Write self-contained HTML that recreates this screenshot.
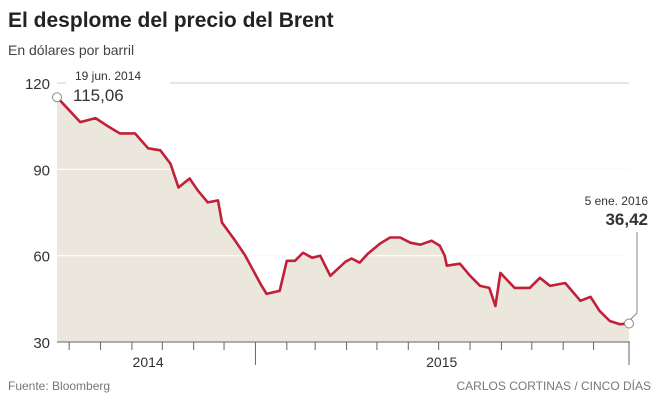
<!DOCTYPE html>
<html><head><meta charset="utf-8"><style>
body{margin:0;background:#fff;font-family:"Liberation Sans",sans-serif;}
svg text{font-family:"Liberation Sans",sans-serif;}
</style></head><body>
<svg width="664" height="400" viewBox="0 0 664 400">
<text x="8" y="27" font-size="21" font-weight="bold" fill="#222">El desplome del precio del Brent</text>
<text x="8" y="55" font-size="14" fill="#444">En dólares por barril</text>
<g id="grid"></g>
<path id="area" fill="#ece7dc"></path>
<g id="gridTop"></g>
<path id="line" fill="none" stroke="#c0203a" stroke-width="2.6" stroke-linejoin="round"></path>
<g id="axis"></g>
<text x="75" y="80" font-size="12" fill="#333">19 jun. 2014</text>
<text x="73" y="101" font-size="17" fill="#333">115,06</text>
<text x="648" y="205" font-size="12" fill="#333" text-anchor="end">5 ene. 2016</text>
<text x="648" y="225" font-size="17" font-weight="bold" fill="#333" text-anchor="end">36,42</text>
<polyline points="630,320 637,313 637,232" fill="none" stroke="#888" stroke-width="1"/>
<circle id="startDot" r="4.5" fill="#fff" stroke="#888" stroke-width="1"/>
<circle id="endDot" r="4.5" fill="#fff" stroke="#888" stroke-width="1"/>
<text x="8" y="390" font-size="12" fill="#777">Fuente: Bloomberg</text>
<text x="651" y="390" font-size="12" fill="#777" text-anchor="end">CARLOS CORTINAS / CINCO DÍAS</text>
</svg>
<script>
const days=[0,23,38,52,62,77,90,102,112,120,131,139,149,159,163,176,186,201,207,220,227,235,243,252,260,270,285,291,299,307,319,329,339,349,359,370,378,383,385,398,408,418,427,433,438,452,467,477,487,502,517,527,536,546,556,565];
const prices=[115.06,106.4,107.8,104.6,102.5,102.5,97.3,96.6,92,83.7,86.8,82.7,78.5,79.2,71.5,65.2,60,50.2,46.7,47.8,58.2,58.2,61,59.3,60,53,57.9,59,57.6,60.7,64.2,66.3,66.3,64.5,63.8,65.2,63.5,60,56.5,57.2,53,49.5,48.8,42.5,54,48.8,48.8,52.3,49.5,50.5,44.3,45.7,40.8,37.3,36.2,36.42];
const yTicks=[30,60,90,120];
const monthTicks=[12,43,74,104,135,165,196,227,255,286,316,347,377,408,439,469,500,530,565];
const yearTicks=[196,565];
const yearLabels=["2014","2015"];
const yearLabelDays=[90,380];
const NS="http://www.w3.org/2000/svg";
const x=d=>57+d*(572/565);
const y=v=>342-(v-30)*(259/90);
function mk(tag,attrs,parent,text){const e=document.createElementNS(NS,tag);for(const k in attrs)e.setAttribute(k,attrs[k]);if(text!==undefined)e.textContent=text;document.getElementById(parent).appendChild(e);return e;}
yTicks.forEach(v=>{
 if(v===30)return;
 const yy=y(v);
 let e;
 if(v===120){
  e=mk('line',{x1:57,x2:66,y1:yy,y2:yy,stroke:'#ccc'},'grid');
  
  
  e=mk('line',{x1:170,x2:629,y1:yy,y2:yy,stroke:'#ccc'},'grid');
 } else {
  e=mk('line',{x1:57,x2:629,y1:yy,y2:yy,stroke:'#fff','stroke-width':1.2},'gridTop');
  
  
  e=mk('line',{x1:57,x2:629,y1:yy,y2:yy,stroke:'#ccc'},'grid');
 }
 
 
});
yTicks.forEach(v=>{
 const t=mk('text',{x:50,y:y(v)+6,'font-size':15,fill:'#333','text-anchor':'end'},'axis',String(v));
 
 
});
let pts=days.map((d,i)=>x(d).toFixed(1)+','+y(prices[i]).toFixed(1));
document.getElementById('line').setAttribute('d','M'+pts.join('L'));
document.getElementById('area').setAttribute('d','M'+x(days[0])+','+y(30)+'L'+pts.join('L')+'L'+x(days[days.length-1])+','+y(30)+'Z');
const ax=mk('line',{x1:57,x2:630,y1:y(30),y2:y(30),stroke:'#666'},'axis');


monthTicks.forEach(d=>{
 const big=yearTicks.includes(d);
 const t=mk('line',{x1:x(d),x2:x(d),y1:y(30),y2:y(30)+(big?23:8),stroke:'#666'},'axis');
 
 
});
yearLabels.forEach((l,i)=>{
 const t=mk('text',{x:x(yearLabelDays[i]),y:367,'font-size':14,fill:'#333','text-anchor':'middle'},'axis',l);
 
 
});
const s=document.getElementById('startDot');s.setAttribute('cx',x(days[0]));s.setAttribute('cy',y(prices[0]));
const en=document.getElementById('endDot');en.setAttribute('cx',x(days[days.length-1]));en.setAttribute('cy',y(prices[prices.length-1]));
</script>
</body></html>
